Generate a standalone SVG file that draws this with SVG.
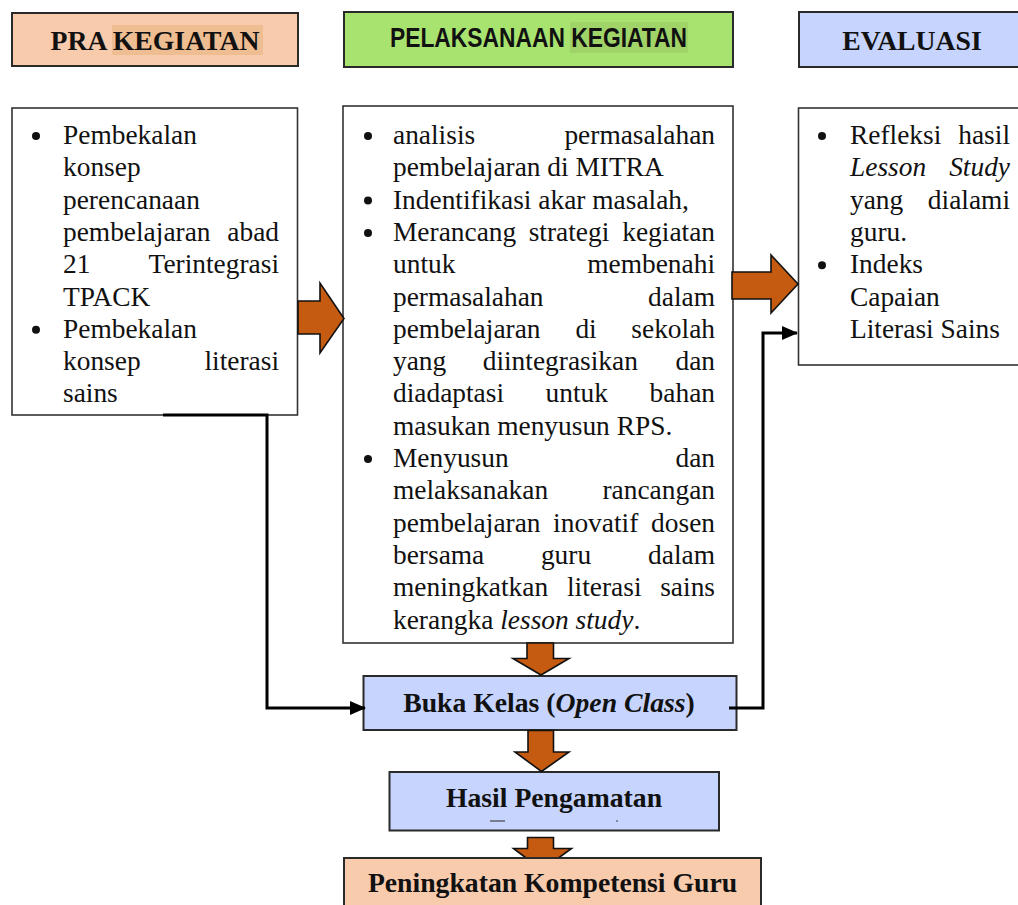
<svg xmlns="http://www.w3.org/2000/svg" width="1018" height="905" viewBox="0 0 1018 905">
<style>
.box{fill:#fff;stroke:#333;stroke-width:1.6}
.hdr{stroke:#2a2a2a;stroke-width:2}
.peach{fill:#F8CBAD}
.green{fill:#A9E36F}
.blue{fill:#C6D4FE}
.t{font-family:"Liberation Serif","Times New Roman",serif;font-size:27.4px;fill:#111}
.b{font-family:"Liberation Serif","Times New Roman",serif;font-size:27.7px;font-weight:bold;fill:#111;text-anchor:middle}
.i{font-style:italic}
.e{text-anchor:end}
.dot{fill:#111}
.blk{fill:#C55A11;stroke:#111;stroke-width:1.6;stroke-linejoin:miter}
.ln{fill:none;stroke:#000;stroke-width:3}
</style>
<defs>
<marker id="ah" markerWidth="16" markerHeight="14" refX="15" refY="7" orient="auto" markerUnits="userSpaceOnUse">
<path d="M0,0 L16,7 L0,14 Z" fill="#000"/>
</marker>
</defs>

<g id="hdr-pra">
<rect class="hdr peach" x="12" y="13" width="286" height="53"/>
<rect x="112" y="25" width="151" height="30" fill="#EEBD92"/>
<text class="b" x="155" y="49.5">PRA KEGIATAN</text>
</g>
<g id="hdr-pelaksanaan">
<rect class="hdr green" x="344" y="12" width="389" height="55"/>
<rect x="570" y="22" width="118" height="31" fill="#A1D468"/>
<text x="390" y="47" font-family="'Liberation Sans',Arial,sans-serif" font-size="28" font-weight="bold" fill="#111" textLength="297" lengthAdjust="spacingAndGlyphs">PELAKSANAAN KEGIATAN</text>
</g>
<g id="hdr-evaluasi">
<rect class="hdr blue" x="799" y="12" width="230" height="55"/>
<text class="b" x="912" y="49.5">EVALUASI</text>
</g>

<g id="pra">
<rect class="box" x="12" y="108" width="285.5" height="307"/>
<circle class="dot" cx="36" cy="136" r="4"/>
<circle class="dot" cx="36" cy="329.8" r="4"/>
<g transform="translate(63,0)">
<text class="t" x="0" y="144">Pembekalan</text>
<text class="t" x="0" y="176.3">konsep</text>
<text class="t" x="0" y="208.6">perencanaan</text>
<text class="t" x="0" y="240.9">pembelajaran</text><text class="t e" x="216" y="240.9">abad</text>
<text class="t" x="0" y="273.2">21</text><text class="t e" x="216" y="273.2">Terintegrasi</text>
<text class="t" x="0" y="305.5">TPACK</text>
<text class="t" x="0" y="337.8">Pembekalan</text>
<text class="t" x="0" y="370.1">konsep</text><text class="t e" x="216" y="370.1">literasi</text>
<text class="t" x="0" y="402.4">sains</text>
</g>
</g>

<g id="pelaksanaan">
<rect class="box" x="343" y="106" width="390" height="537"/>
<circle class="dot" cx="368" cy="136" r="4"/>
<circle class="dot" cx="368" cy="200.6" r="4"/>
<circle class="dot" cx="368" cy="232.9" r="4"/>
<circle class="dot" cx="368" cy="459" r="4"/>
<g transform="translate(393,0)">
<text class="t" x="0" y="144">analisis</text><text class="t e" x="322" y="144">permasalahan</text>
<text class="t" x="0" y="176.3">pembelajaran di MITRA</text>
<text class="t" x="0" y="208.6">Indentifikasi akar masalah,</text>
<text class="t" x="0" y="240.9">Merancang</text><text class="t" x="135.7" y="240.9">strategi</text><text class="t e" x="322" y="240.9">kegiatan</text>
<text class="t" x="0" y="273.2">untuk</text><text class="t e" x="322" y="273.2">membenahi</text>
<text class="t" x="0" y="305.5">permasalahan</text><text class="t e" x="322" y="305.5">dalam</text>
<text class="t" x="0" y="337.8">pembelajaran</text><text class="t" x="182.4" y="337.8">di</text><text class="t e" x="322" y="337.8">sekolah</text>
<text class="t" x="0" y="370.1">yang</text><text class="t" x="89.7" y="370.1">diintegrasikan</text><text class="t e" x="322" y="370.1">dan</text>
<text class="t" x="0" y="402.4">diadaptasi</text><text class="t" x="152.5" y="402.4">untuk</text><text class="t e" x="322" y="402.4">bahan</text>
<text class="t" x="0" y="434.7">masukan menyusun RPS.</text>
<text class="t" x="0" y="467">Menyusun</text><text class="t e" x="322" y="467">dan</text>
<text class="t" x="0" y="499.3">melaksanakan</text><text class="t e" x="322" y="499.3">rancangan</text>
<text class="t" x="0" y="531.6">pembelajaran</text><text class="t" x="160.1" y="531.6">inovatif</text><text class="t e" x="322" y="531.6">dosen</text>
<text class="t" x="0" y="563.9">bersama</text><text class="t" x="147.9" y="563.9">guru</text><text class="t e" x="322" y="563.9">dalam</text>
<text class="t" x="0" y="596.2">meningkatkan</text><text class="t" x="174" y="596.2">literasi</text><text class="t e" x="322" y="596.2">sains</text>
<text class="t" x="0" y="628.5">kerangka <tspan class="i">lesson study</tspan>.</text>
</g>
</g>

<g id="evaluasi">
<rect class="box" x="798.5" y="108" width="230" height="257"/>
<circle class="dot" cx="822" cy="136" r="4"/>
<circle class="dot" cx="822" cy="265.2" r="4"/>
<g transform="translate(850,0)">
<text class="t" x="0" y="144">Refleksi</text><text class="t e" x="160" y="144">hasil</text>
<text class="t i" x="0" y="176.3">Lesson</text><text class="t i e" x="160" y="176.3">Study</text>
<text class="t" x="0" y="208.6">yang</text><text class="t e" x="160" y="208.6">dialami</text>
<text class="t" x="0" y="240.9">guru.</text>
<text class="t" x="0" y="273.2">Indeks</text>
<text class="t" x="0" y="305.5">Capaian</text>
<text class="t" x="0" y="337.8">Literasi Sains</text>
</g>
</g>

<g id="buka-kelas">
<rect class="hdr blue" x="363.5" y="676" width="373" height="54"/>
<text class="b" x="549" y="711.5">Buka Kelas (<tspan class="i">Open Class</tspan>)</text>
</g>

<g id="hasil">
<rect class="hdr blue" x="389.5" y="772" width="329.5" height="58.5"/>
<text class="b" x="554" y="806.5">Hasil Pengamatan</text>
<line x1="490" y1="821" x2="505" y2="821" stroke="#444" stroke-width="1.2"/>
<line x1="616" y1="821" x2="618" y2="821" stroke="#444" stroke-width="1.2"/>
</g>

<g id="connectors">
<path class="blk" d="M298,301 H320 V283 L344,318.5 L320,353 V334 H298 Z"/>
<path class="blk" d="M732,272 H771 V255 L798,284 L771,313 V299 H732 Z"/>
<path class="blk" d="M527,643 V658.5 H513 L541,675 L569,658.5 H553.5 V643 Z"/>
<path class="blk" d="M528,730.5 V752 H515 L541.5,771.5 L569,752 H553.5 V730.5 Z"/>
<path class="blk" d="M527.5,837.5 V848.5 H513.5 L542,870 L571.5,848.5 H553.5 V837.5 Z"/>
<path class="ln" d="M163,415 H267 V708 H365" marker-end="url(#ah)"/>
<path class="ln" d="M729,708 H763 V333 H797" marker-end="url(#ah)"/>
</g>

<g id="peningkatan">
<rect class="hdr peach" x="344" y="858" width="417" height="60"/>
<text class="b" x="552.5" y="891.5">Peningkatan Kompetensi Guru</text>
</g>
</svg>
